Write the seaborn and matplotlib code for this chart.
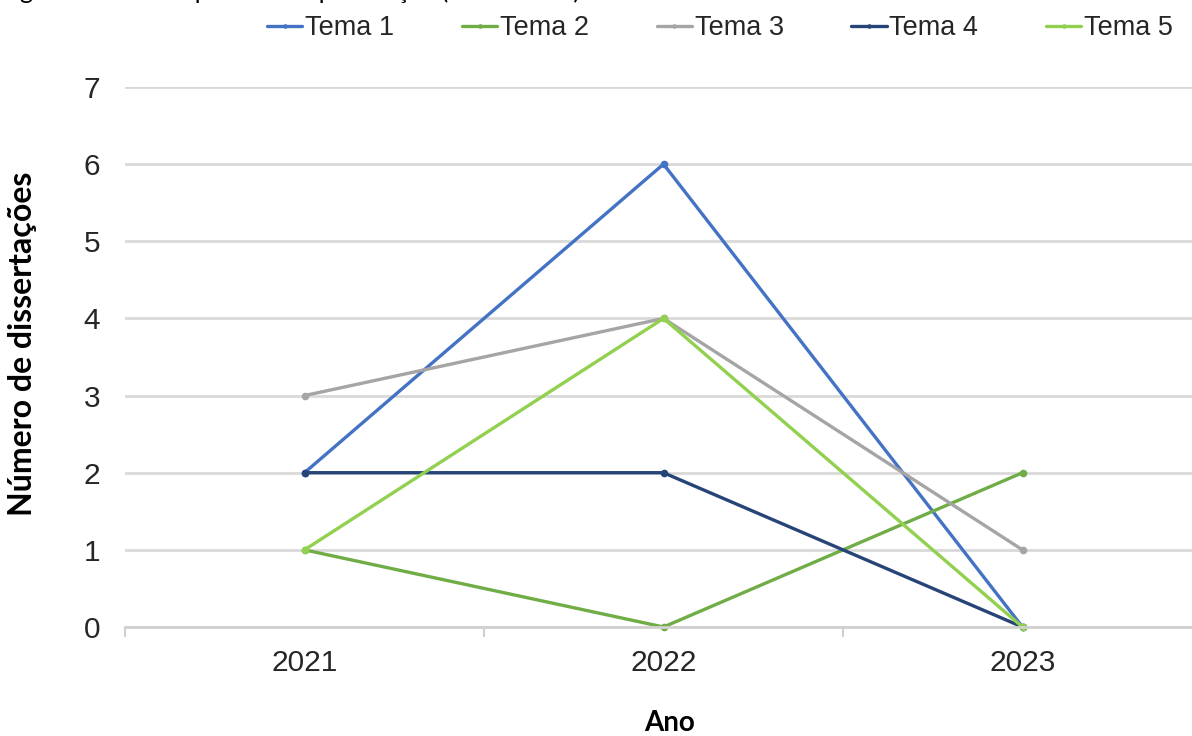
import matplotlib
matplotlib.use("Agg")
import matplotlib.pyplot as plt
import seaborn as sns
import pandas as pd
from matplotlib.ticker import FixedLocator

years = ["2021", "2022", "2023"]
series_names = ["Tema 1", "Tema 2", "Tema 3", "Tema 4", "Tema 5"]
tema1 = [2, 6, 0]
tema2 = [1, 0, 2]
tema3 = [3, 4, 1]
tema4 = [2, 2, 0]
tema5 = [1, 4, 0]
y_ticks = [0, 1, 2, 3, 4, 5, 6, 7]
colors = ["#4472C4", "#70AD47", "#A5A5A5", "#264478", "#92D050"]

values = [tema1, tema2, tema3, tema4, tema5]
rows = []
for name, vals in zip(series_names, values):
    for i, (yr, v) in enumerate(zip(years, vals)):
        rows.append({"idx": i, "Ano": yr, "Tema": name, "valor": v})
df = pd.DataFrame(rows)

sns.set_theme(style="white")
plt.rcParams["font.family"] = ["Liberation Sans", "DejaVu Sans"]

fig = plt.figure(figsize=(11.92, 7.36), dpi=100)
ax = fig.add_axes([125 / 1192, 1 - 627 / 736, 1077 / 1192, 540 / 736])

sns.lineplot(data=df, x="idx", y="valor", hue="Tema", hue_order=series_names,
             palette=colors, marker="o", markersize=5.5, markeredgewidth=0,
             linewidth=2.4, ax=ax, legend=True, clip_on=False)

ax.set_xlim(-0.5, 2.5)
ax.set_ylim(0, 7)
ax.set_yticks(y_ticks)
ax.set_xticks(range(len(years)))
ax.set_xticklabels(years)
ax.xaxis.set_minor_locator(FixedLocator([-0.5, 0.5, 1.5, 2.5]))
ax.tick_params(axis="x", which="major", length=0, pad=16, labelsize=21.5, colors="#262626")
ax.tick_params(axis="x", which="minor", length=7, width=1.5, color="#d0d0d0", bottom=True)
ax.tick_params(axis="y", length=0, pad=18, labelsize=21.5, colors="#262626")
ax.yaxis.grid(True, color="#d9d9d9", linewidth=2)
ax.xaxis.grid(False)
ax.set_axisbelow(True)
for s in ["top", "right", "left"]:
    ax.spines[s].set_visible(False)
ax.spines["bottom"].set_color("#d0d0d0")
ax.spines["bottom"].set_linewidth(2)

ax.set_xlabel("")
ax.set_ylabel("")
fig.text(23 / 1192, 1 - 344 / 736, "Número de dissertações", rotation=90,
         ha="center", va="center", fontsize=23, fontweight="bold",
         family=["Lato", "DejaVu Sans"], color="black")
fig.text(670 / 1192, 1 - 723 / 736, "Ano", ha="center", va="center",
         fontsize=20, fontweight="bold", family=["Lato", "DejaVu Sans"], color="black")

handles, labels = ax.get_legend_handles_labels()
ax.get_legend().remove()
fig.legend(handles, labels, loc="center", bbox_to_anchor=(720 / 1192, 1 - 28 / 736),
           ncol=5, frameon=False, fontsize=19.5, handlelength=1.3, handletextpad=0.1,
           columnspacing=2.5, markerscale=0.6)

fig.text(0.0, 1 + 1 / 736, "Figura 5 – Temas por ano de publicação (2021-2023)",
         ha="left", va="baseline", fontsize=18, family=["Lato", "DejaVu Sans"], color="black")

fig.savefig("out.png", dpi=100)
